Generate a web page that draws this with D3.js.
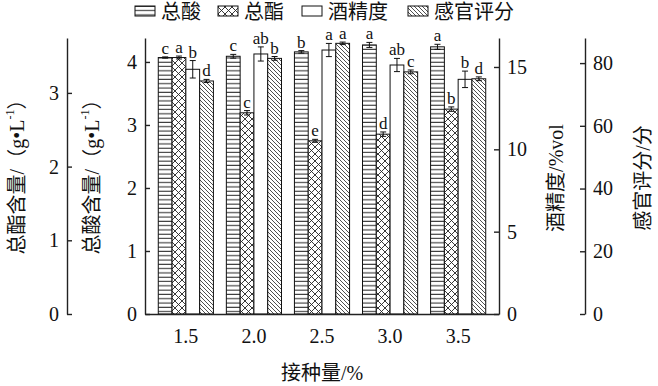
<!DOCTYPE html>
<html>
<head>
<meta charset="utf-8">
<script src="https://cdn.jsdelivr.net/npm/d3@7"></script>
<style>
  body { margin: 0; background: #fff; }
  text { font-family: "Liberation Serif", "Noto Sans CJK SC", serif; fill: #111; }
</style>
</head>
<body>
<div id="chart"></div>
<script>
const doses = ["1.5", "2.0", "2.5", "3.0", "3.5"];
const seriesNames = ["总酸", "总酯", "酒精度", "感官评分"];

const acid = [4.07, 4.09, 4.16, 4.27, 4.24];
const acidErr = [0.01, 0.03, 0.02, 0.04, 0.04];
const ester = [3.48, 2.73, 2.35, 2.44, 2.78];
const esterErr = [0.02, 0.03, 0.02, 0.03, 0.03];
const alcohol = [14.86, 15.79, 16.03, 15.12, 14.25];
const alcoholErr = [0.53, 0.43, 0.4, 0.4, 0.5];
const sensory = [74.3, 81.5, 86.3, 77.2, 75.0];
const sensoryErr = [0.5, 0.6, 0.4, 0.6, 0.6];

const acidLetters = ["c", "c", "b", "a", "a"];
const esterLetters = ["a", "c", "e", "d", "b"];
const alcoholLetters = ["b", "ab", "a", "ab", "b"];
const sensoryLetters = ["d", "b", "a", "c", "d"];

const acidTicks = [0, 1, 2, 3, 4];
const esterTicks = [0, 1, 2, 3];
const alcoholTicks = [0, 5, 10, 15];
const sensoryTicks = [0, 20, 40, 60, 80];

const width = 658, height = 386;
const plot = { left: 145, right: 499, top: 38, bottom: 314 };

const svg = d3.select("#chart")
    .append("svg")
    .attr("width", width)
    .attr("height", height);

// patterns
const defs = svg.append("defs");
const pAcid = defs.append("pattern").attr("id", "p0")
    .attr("patternUnits", "userSpaceOnUse").attr("width", 8).attr("height", 4.3);
pAcid.append("rect").attr("width", 8).attr("height", 4.3).attr("fill", "#fff");
pAcid.append("line").attr("x1", 0).attr("x2", 8).attr("y1", 2).attr("y2", 2)
    .attr("stroke", "#222").attr("stroke-width", 1);

const pEster = defs.append("pattern").attr("id", "p1")
    .attr("patternUnits", "userSpaceOnUse").attr("width", 7).attr("height", 7);
pEster.append("rect").attr("width", 7).attr("height", 7).attr("fill", "#fff");
pEster.append("path").attr("d", "M0,0L7,7M7,0L0,7")
    .attr("stroke", "#222").attr("stroke-width", 0.9).attr("fill", "none");

const pAlc = defs.append("pattern").attr("id", "p2")
    .attr("patternUnits", "userSpaceOnUse").attr("width", 4).attr("height", 4);
pAlc.append("rect").attr("width", 4).attr("height", 4).attr("fill", "#fff");

const pSens = defs.append("pattern").attr("id", "p3")
    .attr("patternUnits", "userSpaceOnUse").attr("width", 4).attr("height", 4);
pSens.append("rect").attr("width", 4).attr("height", 4).attr("fill", "#fff");
pSens.append("path").attr("d", "M-1,-1L5,5M-1,3L1,5M3,-1L5,1")
    .attr("stroke", "#222").attr("stroke-width", 0.8).attr("fill", "none");

// scales
const x = d3.scaleBand().domain(doses).range([plot.left, plot.right])
    .paddingInner(0.19).paddingOuter(0.195);
const xSub = d3.scaleBand().domain(d3.range(4)).range([0, x.bandwidth()]);

const yAcid = d3.scaleLinear().domain([0, 4.38]).range([plot.bottom, plot.top]);
const yEster = d3.scaleLinear().domain([0, 3.745]).range([plot.bottom, plot.top]);
const yAlc = d3.scaleLinear().domain([0, 16.76]).range([plot.bottom, plot.top]);
const ySens = d3.scaleLinear().domain([0, 88]).range([plot.bottom, plot.top]);

const series = [
    { vals: acid, err: acidErr, letters: acidLetters, y: yAcid },
    { vals: ester, err: esterErr, letters: esterLetters, y: yEster },
    { vals: alcohol, err: alcoholErr, letters: alcoholLetters, y: yAlc },
    { vals: sensory, err: sensoryErr, letters: sensoryLetters, y: ySens }
];

const rows = [];
series.forEach((s, si) => {
    doses.forEach((d, i) => {
        rows.push({ dose: d, si, v: s.vals[i], e: s.err[i], letter: s.letters[i], y: s.y });
    });
});

const g = svg.append("g");

g.selectAll(".bar")
    .data(rows)
    .enter()
    .append("rect")
    .attr("class", "bar")
    .attr("x", d => x(d.dose) + xSub(d.si))
    .attr("y", d => d.y(d.v))
    .attr("width", xSub.bandwidth())
    .attr("height", d => d.y(0) - d.y(d.v))
    .attr("fill", d => `url(#p${d.si})`)
    .attr("stroke", "#111")
    .attr("stroke-width", 1);

// error bars + significance letters
const eb = g.selectAll(".err")
    .data(rows)
    .enter()
    .append("g")
    .attr("class", "err")
    .attr("transform", d => `translate(${x(d.dose) + xSub(d.si) + xSub.bandwidth() / 2},0)`);
eb.append("line").attr("y1", d => d.y(d.v + d.e)).attr("y2", d => d.y(d.v - d.e))
    .attr("stroke", "#111").attr("stroke-width", 1);
eb.append("line").attr("x1", -3).attr("x2", 3)
    .attr("y1", d => d.y(d.v + d.e)).attr("y2", d => d.y(d.v + d.e))
    .attr("stroke", "#111").attr("stroke-width", 1);
eb.append("line").attr("x1", -3).attr("x2", 3)
    .attr("y1", d => d.y(d.v - d.e)).attr("y2", d => d.y(d.v - d.e))
    .attr("stroke", "#111").attr("stroke-width", 1);
eb.append("text")
    .attr("y", d => d.y(d.v + d.e) - 3)
    .attr("text-anchor", "middle")
    .style("font-size", "17px")
    .text(d => d.letter);

// axes
function styleAxis(sel) {
    sel.selectAll("path.domain").attr("stroke", "#222").attr("stroke-width", 1.4);
    sel.selectAll(".tick line").attr("stroke", "#222").attr("stroke-width", 1.4);
    sel.selectAll("text").style("font-size", "20px").attr("fill", "#111");
}
const fmt = d3.format("d");

svg.append("g")
    .attr("transform", `translate(${plot.left},0)`)
    .call(d3.axisLeft(yAcid).tickValues(acidTicks).tickFormat(fmt)
        .tickSizeInner(-5).tickSizeOuter(0).tickPadding(8))
    .call(styleAxis);

svg.append("g")
    .attr("transform", "translate(67,0)")
    .call(d3.axisLeft(yEster).tickValues(esterTicks).tickFormat(fmt)
        .tickSizeInner(-5).tickSizeOuter(0).tickPadding(8))
    .call(styleAxis);

svg.append("g")
    .attr("transform", `translate(${plot.right},0)`)
    .call(d3.axisRight(yAlc).tickValues(alcoholTicks).tickFormat(fmt)
        .tickSizeInner(-5).tickSizeOuter(0).tickPadding(8))
    .call(styleAxis);

svg.append("g")
    .attr("transform", "translate(585,0)")
    .call(d3.axisRight(ySens).tickValues(sensoryTicks).tickFormat(fmt)
        .tickSizeInner(-5).tickSizeOuter(0).tickPadding(8))
    .call(styleAxis);

svg.append("g")
    .attr("transform", `translate(0,${plot.bottom})`)
    .call(d3.axisBottom(x).tickSize(0).tickPadding(15))
    .call(styleAxis);

// axis titles
function yTitle(cx, cy, parts) {
    const t = svg.append("text")
        .attr("transform", `translate(${cx},${cy}) rotate(-90)`)
        .attr("text-anchor", "middle")
        .attr("dominant-baseline", "central")
        .style("font-size", "20px");
    parts.forEach(p => {
        const ts = t.append("tspan").text(p.t);
        if (p.sup) ts.attr("baseline-shift", "super").style("font-size", "12px");
    });
}
yTitle(17, 172, [{ t: "总酯含量/（g•L" }, { t: "-1", sup: true }, { t: "）" }]);
yTitle(92, 172, [{ t: "总酸含量/（g•L" }, { t: "-1", sup: true }, { t: "）" }]);
yTitle(556, 178, [{ t: "酒精度/%vol" }]);
yTitle(643, 178, [{ t: "感官评分/分" }]);

svg.append("text")
    .attr("x", 322).attr("y", 380)
    .attr("text-anchor", "middle")
    .style("font-size", "20px")
    .text("接种量/%");

// legend
const legendX = [135, 218, 302, 408];
const leg = svg.append("g").selectAll("g")
    .data(seriesNames)
    .enter()
    .append("g")
    .attr("transform", (d, i) => `translate(${legendX[i]},0)`);
leg.append("rect")
    .attr("x", 0).attr("y", 6).attr("width", 20).attr("height", 10)
    .attr("fill", (d, i) => `url(#p${i})`)
    .attr("stroke", "#111").attr("stroke-width", 1);
leg.append("text")
    .attr("x", 26).attr("y", 19)
    .style("font-size", "20px")
    .text(d => d);
</script>
</body>
</html>
